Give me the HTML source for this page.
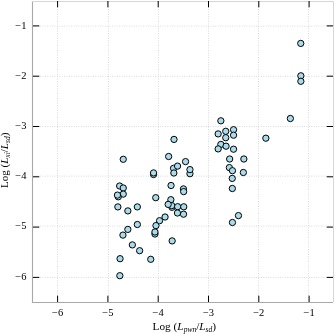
<!DOCTYPE html>
<html><head><meta charset="utf-8"><style>
html,body{margin:0;padding:0;background:#fff;}
body{width:335px;height:334px;overflow:hidden;}
svg{display:block;will-change:transform;}
text{font-family:"Liberation Serif",serif;fill:#000;}
</style></head><body>
<svg width="335" height="334" viewBox="0 0 335 334">
<g stroke="#c8c8c8" stroke-width="0.8" stroke-dasharray="0.8 1.6" fill="none"><line x1="57.50" y1="2" x2="57.50" y2="302"/><line x1="33" y1="277.45" x2="333" y2="277.45"/><line x1="108.50" y1="2" x2="108.50" y2="302"/><line x1="33" y1="226.15" x2="333" y2="226.15"/><line x1="158.50" y1="2" x2="158.50" y2="302"/><line x1="33" y1="176.15" x2="333" y2="176.15"/><line x1="208.50" y1="2" x2="208.50" y2="302"/><line x1="33" y1="126.50" x2="333" y2="126.50"/><line x1="258.50" y1="2" x2="258.50" y2="302"/><line x1="33" y1="76.30" x2="333" y2="76.30"/><line x1="308.50" y1="2" x2="308.50" y2="302"/><line x1="33" y1="26.15" x2="333" y2="26.15"/></g>
<path d="M32.5 0.9V302.5H333" fill="none" stroke="#a8a8a8" stroke-width="1.1"/>
<path d="M32 1.5H333.5V302" fill="none" stroke="#d6d6d6" stroke-width="1"/>
<g stroke="#000" stroke-width="1"><line x1="57.60" y1="302" x2="57.60" y2="295.70"/><line x1="57.60" y1="1" x2="57.60" y2="7.30"/><line x1="33" y1="277.40" x2="39.30" y2="277.40"/><line x1="333" y1="277.40" x2="326.70" y2="277.40"/><line x1="107.90" y1="302" x2="107.90" y2="295.70"/><line x1="107.90" y1="1" x2="107.90" y2="7.30"/><line x1="33" y1="227.10" x2="39.30" y2="227.10"/><line x1="333" y1="227.10" x2="326.70" y2="227.10"/><line x1="158.20" y1="302" x2="158.20" y2="295.70"/><line x1="158.20" y1="1" x2="158.20" y2="7.30"/><line x1="33" y1="176.80" x2="39.30" y2="176.80"/><line x1="333" y1="176.80" x2="326.70" y2="176.80"/><line x1="208.50" y1="302" x2="208.50" y2="295.70"/><line x1="208.50" y1="1" x2="208.50" y2="7.30"/><line x1="33" y1="126.50" x2="39.30" y2="126.50"/><line x1="333" y1="126.50" x2="326.70" y2="126.50"/><line x1="258.80" y1="302" x2="258.80" y2="295.70"/><line x1="258.80" y1="1" x2="258.80" y2="7.30"/><line x1="33" y1="76.20" x2="39.30" y2="76.20"/><line x1="333" y1="76.20" x2="326.70" y2="76.20"/><line x1="309.10" y1="302" x2="309.10" y2="295.70"/><line x1="309.10" y1="1" x2="309.10" y2="7.30"/><line x1="33" y1="25.90" x2="39.30" y2="25.90"/><line x1="333" y1="25.90" x2="326.70" y2="25.90"/></g>
<g fill="#aadbeb" stroke="#000" stroke-width="1.0"><circle cx="300.75" cy="43.40" r="3.15"/><circle cx="300.85" cy="75.80" r="3.15"/><circle cx="300.85" cy="81.30" r="3.15"/><circle cx="290.35" cy="118.50" r="3.15"/><circle cx="265.85" cy="138.20" r="3.15"/><circle cx="220.85" cy="120.80" r="3.15"/><circle cx="218.15" cy="133.90" r="3.15"/><circle cx="225.75" cy="131.30" r="3.15"/><circle cx="233.55" cy="129.70" r="3.15"/><circle cx="233.55" cy="135.20" r="3.15"/><circle cx="225.75" cy="137.70" r="3.15"/><circle cx="220.85" cy="144.40" r="3.15"/><circle cx="226.05" cy="146.20" r="3.15"/><circle cx="218.15" cy="148.90" r="3.15"/><circle cx="233.55" cy="149.20" r="3.15"/><circle cx="229.65" cy="159.00" r="3.15"/><circle cx="243.85" cy="159.00" r="3.15"/><circle cx="229.35" cy="167.60" r="3.15"/><circle cx="232.45" cy="170.70" r="3.15"/><circle cx="243.35" cy="172.50" r="3.15"/><circle cx="232.25" cy="178.40" r="3.15"/><circle cx="232.35" cy="188.50" r="3.15"/><circle cx="238.45" cy="215.60" r="3.15"/><circle cx="232.45" cy="222.50" r="3.15"/><circle cx="174.00" cy="139.40" r="3.15"/><circle cx="168.65" cy="156.50" r="3.15"/><circle cx="185.55" cy="161.60" r="3.15"/><circle cx="173.55" cy="168.30" r="3.15"/><circle cx="177.55" cy="166.10" r="3.15"/><circle cx="173.85" cy="173.00" r="3.15"/><circle cx="189.95" cy="173.70" r="3.15"/><circle cx="189.95" cy="169.60" r="3.15"/><circle cx="153.55" cy="174.50" r="3.15"/><circle cx="153.55" cy="172.90" r="3.15"/><circle cx="171.05" cy="185.50" r="3.15"/><circle cx="183.45" cy="188.90" r="3.15"/><circle cx="183.65" cy="191.60" r="3.15"/><circle cx="171.95" cy="207.30" r="3.15"/><circle cx="171.75" cy="205.60" r="3.15"/><circle cx="170.85" cy="199.70" r="3.15"/><circle cx="168.15" cy="204.40" r="3.15"/><circle cx="177.65" cy="206.70" r="3.15"/><circle cx="183.75" cy="206.80" r="3.15"/><circle cx="177.45" cy="213.00" r="3.15"/><circle cx="183.55" cy="214.20" r="3.15"/><circle cx="165.05" cy="217.00" r="3.15"/><circle cx="159.55" cy="220.70" r="3.15"/><circle cx="155.95" cy="225.60" r="3.15"/><circle cx="154.95" cy="234.00" r="3.15"/><circle cx="154.95" cy="232.00" r="3.15"/><circle cx="172.15" cy="240.90" r="3.15"/><circle cx="155.75" cy="197.70" r="3.15"/><circle cx="150.75" cy="259.30" r="3.15"/><circle cx="123.25" cy="159.30" r="3.15"/><circle cx="119.65" cy="186.00" r="3.15"/><circle cx="123.25" cy="188.00" r="3.15"/><circle cx="123.25" cy="194.10" r="3.15"/><circle cx="118.25" cy="196.80" r="3.15"/><circle cx="117.45" cy="195.10" r="3.15"/><circle cx="117.85" cy="206.90" r="3.15"/><circle cx="127.85" cy="210.90" r="3.15"/><circle cx="137.35" cy="206.90" r="3.15"/><circle cx="137.35" cy="224.50" r="3.15"/><circle cx="127.85" cy="229.40" r="3.15"/><circle cx="122.95" cy="235.10" r="3.15"/><circle cx="132.35" cy="244.90" r="3.15"/><circle cx="139.65" cy="250.70" r="3.15"/><circle cx="120.05" cy="258.70" r="3.15"/><circle cx="119.85" cy="275.70" r="3.15"/></g>
<g font-size="10.5" fill="#303030"><text x="57.60" y="316.2" text-anchor="middle">−6</text><text x="26.5" y="279.60" text-anchor="end">−6</text><text x="107.90" y="316.2" text-anchor="middle">−5</text><text x="26.5" y="229.10" text-anchor="end">−5</text><text x="158.20" y="316.2" text-anchor="middle">−4</text><text x="26.5" y="178.70" text-anchor="end">−4</text><text x="208.50" y="316.2" text-anchor="middle">−3</text><text x="26.5" y="128.70" text-anchor="end">−3</text><text x="258.80" y="316.2" text-anchor="middle">−2</text><text x="26.5" y="78.70" text-anchor="end">−2</text><text x="309.10" y="316.2" text-anchor="middle">−1</text><text x="26.5" y="28.60" text-anchor="end">−1</text></g>
<text x="184.3" y="330.2" text-anchor="middle" font-size="11.3" fill="#303030">Log (<tspan font-style="italic">L</tspan><tspan font-style="italic" font-size="7.5" dy="1.5">pwn</tspan><tspan dy="-1.5">/</tspan><tspan font-style="italic">L</tspan><tspan font-style="italic" font-size="7.5" dy="1.5">sd</tspan><tspan dy="-1.5">)</tspan></text>
<text transform="translate(8.2,160.3) rotate(-90)" text-anchor="middle" font-size="11.0" fill="#303030">Log (<tspan font-style="italic">L</tspan><tspan font-style="italic" font-size="7.5" dy="1.5">xi</tspan><tspan dy="-1.5">/</tspan><tspan font-style="italic">L</tspan><tspan font-style="italic" font-size="7.5" dy="1.5">sd</tspan><tspan dy="-1.5">)</tspan></text>
</svg>
</body></html>
